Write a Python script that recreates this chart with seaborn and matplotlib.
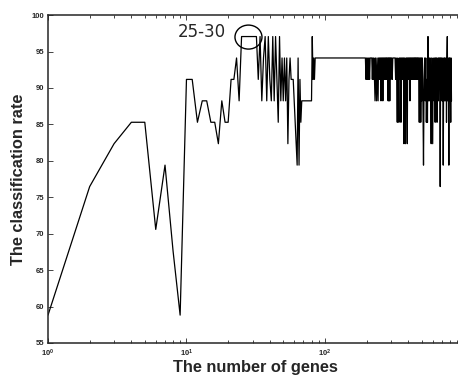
import matplotlib
matplotlib.use("Agg")
import matplotlib.pyplot as plt
import numpy as np
import pandas as pd
import seaborn as sns
from matplotlib.patches import Ellipse

# classification rate = correctly classified test samples / 34
TEST_SIZE = 34

# one point per gene count, 1..85
genes_low = np.arange(1, 86)
correct_low = [
    20, 26, 28, 29, 29, 24, 27, 23, 20, 31,
    31, 29, 30, 30, 29, 29, 28, 30, 29, 29,
    31, 31, 32, 30, 33, 33, 33, 33, 33, 33,
    33, 33, 31, 33, 30, 32, 33, 30, 33, 31,
    30, 33, 30, 33, 31, 29, 33, 30, 32, 30,
    32, 30, 32, 28, 31, 32, 31, 31, 31, 30,
    29, 28, 27, 32, 27, 31, 29, 30, 30, 30,
    30, 30, 30, 30, 30, 30, 30, 30, 30, 30,
    33, 31, 32, 31, 32,
]

# flat stretch up to ~200 genes
genes_mid = [86, 196]
correct_mid = [32, 32]

# 198..300 genes, every 2nd count
genes_a = np.arange(198, 301, 2)
correct_a = [
    31, 32, 31, 32, 31, 32, 31, 32, 32, 32,
    32, 31, 32, 31, 32, 31, 30, 32, 31, 30,
    32, 31, 30, 32, 31, 32, 31, 32, 30, 32,
    31, 32, 30, 32, 31, 32, 31, 32, 31, 32,
    32, 31, 32, 32, 30, 32, 30, 32, 30, 32,
    31, 32,
]

# 303..501 genes, every 3rd count
genes_b = np.arange(303, 502, 3)
correct_b = [
    32, 31, 32, 32, 32, 32, 32, 31, 32, 31,
    29, 32, 31, 29, 32, 31, 32, 29, 32, 31,
    32, 31, 32, 28, 32, 31, 28, 32, 31, 32,
    28, 32, 31, 32, 31, 32, 30, 32, 31, 32,
    31, 32, 31, 32, 31, 32, 31, 32, 31, 32,
    31, 32, 31, 32, 31, 32, 31, 32, 31, 29,
    32, 30, 32, 29, 31, 32, 30,
]

# 505..820 genes, every 5th count
genes_c = np.arange(505, 821, 5)
correct_c = [
    32, 30, 27, 31, 32, 30, 32, 29, 31, 29,
    33, 30, 32, 30, 32, 31, 28, 32, 30, 28,
    32, 31, 30, 32, 29, 32, 30, 32, 29, 31,
    32, 30, 32, 31, 32, 26, 32, 30, 32, 31,
    30, 32, 27, 31, 32, 30, 32, 31, 30, 32,
    29, 32, 33, 30, 32, 31, 27, 32, 30, 32,
    31, 29, 32, 30,
]

genes = np.concatenate([genes_low, genes_mid, genes_a, genes_b, genes_c])
correct = correct_low + correct_mid + correct_a + correct_b + correct_c
df = pd.DataFrame({"genes": genes, "rate": np.array(correct) / TEST_SIZE * 100})

sns.set_style("ticks")
plt.rcParams["font.family"] = ["Liberation Sans", "DejaVu Sans"]

fig = plt.figure(figsize=(4.58, 3.76), dpi=100)
ax = fig.add_axes([0.1048, 0.0878, 0.907, 0.872])

sns.lineplot(data=df, x="genes", y="rate", color="black", linewidth=0.9,
             estimator=None, sort=False, ax=ax)

ax.set_xscale("log")
ax.set_xlim(1, 1000)
ax.set_ylim(55, 100)
ax.set_xticks([1, 10, 100])
ax.set_yticks(range(55, 101, 5))

ax.tick_params(which="both", direction="in", top=True, right=True,
               width=0.6, labelsize=5.5)
ax.tick_params(axis="x", pad=3.5)
ax.tick_params(axis="y", pad=3)
ax.tick_params(which="major", length=3.5)
ax.tick_params(which="minor", length=2)
for lbl in ax.get_xticklabels() + ax.get_yticklabels():
    lbl.set_fontweight("bold")
for side in ["top", "bottom", "left", "right"]:
    ax.spines[side].set_linewidth(1.1)

ax.set_xlabel("The number of genes", fontsize=11.8, fontweight="bold")
ax.set_ylabel("The classification rate", fontsize=11.8, fontweight="bold")
ax.xaxis.set_label_coords(0.5, -0.052)
ax.yaxis.set_label_coords(-0.053, 0.5)

ax.text(0.313, 0.933, "25-30", transform=ax.transAxes, fontsize=12,
        family="DejaVu Sans", ha="left", va="baseline")
ax.add_patch(Ellipse((0.4826, 0.933), 0.065, 0.0732, transform=ax.transAxes,
                     fill=False, edgecolor="black", linewidth=1.0))

fig.savefig("out.png", dpi=100)
plt.close(fig)
